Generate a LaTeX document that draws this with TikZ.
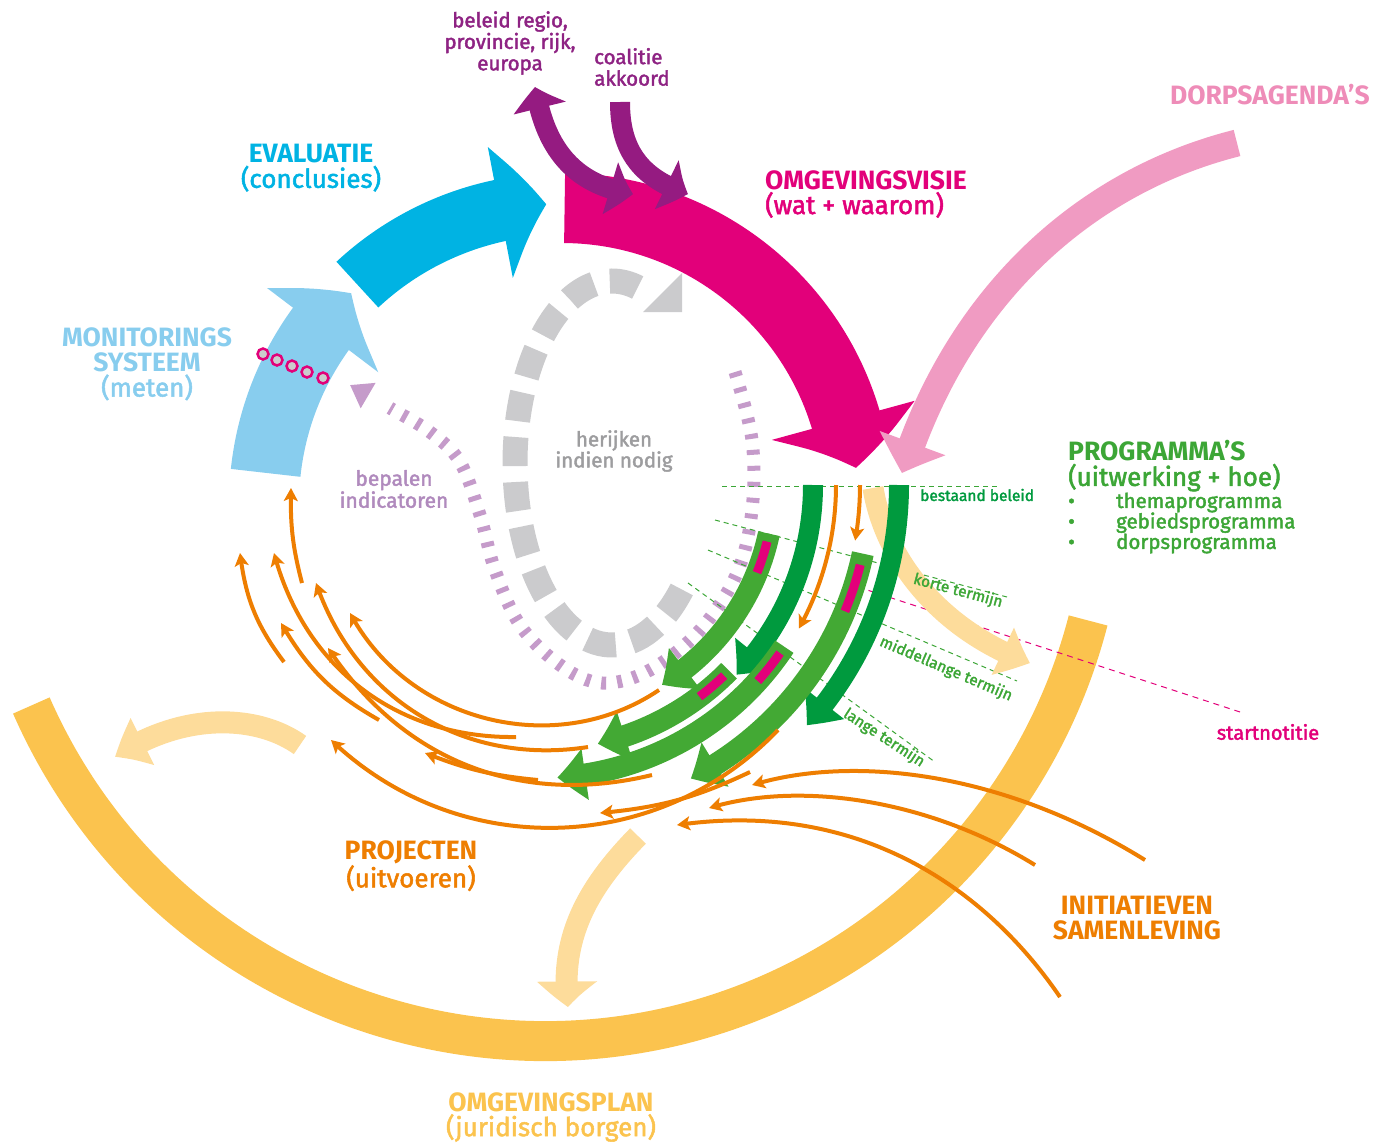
\documentclass[tikz,border=0pt]{standalone}
\usepackage{fontspec}
\setmainfont{Fira Sans}
\newfontfamily\medfont{Fira Sans}[FakeBold=2]
\usepackage{tikz}
\usetikzlibrary{arrows.meta,bending}
\definecolor{cyanc}{HTML}{00B3E3}
\definecolor{lblue}{HTML}{88CDEE}
\definecolor{magc}{HTML}{E2007A}
\definecolor{pinkc}{HTML}{F09BC2}
\definecolor{dorpc}{HTML}{EE8CB8}
\definecolor{purc}{HTML}{951B81}
\definecolor{purtxt}{HTML}{8E2383}
\definecolor{lpur}{HTML}{C59BCA}
\definecolor{lpurtxt}{HTML}{B08ABD}
\definecolor{grayc}{HTML}{CBCBCD}
\definecolor{graytxt}{HTML}{9D9D9F}
\definecolor{dgreen}{HTML}{009A3E}
\definecolor{lgreen}{HTML}{43A934}
\definecolor{labgreen}{HTML}{3CA636}
\definecolor{orc}{HTML}{EE7E01}
\definecolor{bandc}{HTML}{FBC34E}
\definecolor{pale}{HTML}{FDDC9B}
\tikzset{
  head/.style   ={inner sep=0pt, align=center, font=\fontsize{26}{25}\selectfont},
  lbl/.style    ={inner sep=0pt, align=center, font=\medfont\fontsize{20.5}{21.5}\selectfont},
  tag/.style    ={inner sep=0pt, text=labgreen, font=\medfont\fontsize{15.5}{16}\selectfont},
  term/.style   ={draw=labgreen, line width=1pt, dash pattern=on 5pt off 4pt},
  orarrow/.style={draw=orc, line width=4pt, -{Stealth[length=13pt,width=14pt,inset=3pt]}},
  bar/.style    ={magc, line width=9pt}
}
\newcommand{\caps}[1]{{\bfseries\fontsize{26.5}{25}\selectfont #1}}
\begin{document}
\begin{tikzpicture}[x=1pt,y=-1pt]
  \useasboundingbox (0,0) rectangle (1373,1144);
  % centres of the three circles
  \coordinate (C) at (562,504);
  \coordinate (Q) at (540,485);
  \coordinate (Y) at (545,480);

  % omgevingsplan band
  \draw[bandc, line width=40pt] (Y) ++(156.3:561) arc[start angle=156.3, end angle=14.5, radius=561];

  % herijken (grey dashed loop)
  \draw[grayc, line width=25pt, dash pattern=on 29pt off 16pt]
    (612,463) ++(44:97 and 182) arc[start angle=44, end angle=288, x radius=97, y radius=182];
  \fill[grayc] (643,312) -- (682,273) -- (682,312) -- cycle;

  % bepalen indicatoren (purple dashed)
  \draw[lpur, line width=13pt, dash pattern=on 5pt off 11pt, -{Triangle[width=28pt,length=21pt]}]
    plot[smooth, tension=0.6] coordinates {(735,372) (752,440) (752,510) (737,573) (700,630) (650,670)
      (602,683) (560,665) (520,625) (495,570) (480,515) (460,462) (430,432) (390,408) (350,385)};

  % terms and startnotitie
  \draw[term] (722,486) -- (1000,486);
  \draw[term] (715,520) -- (1007,597);
  \draw[term] (708,550) -- (1017,681);
  \draw[term] (688,583) -- (935,762);
  \draw[magc, line width=1pt, dash pattern=on 6pt off 5pt] (858,587) -- (1240,712);

  % main cycle
  \draw[lblue, line width=70pt, -{Triangle[width=136pt,length=47pt,bend]}]
    (C) ++(-174:298) arc[start angle=-174, end angle=-135, radius=298];
  \draw[cyanc, line width=62pt, -{Triangle[width=130pt,length=47pt,bend]}]
    (C) ++(-133:300) arc[start angle=-133, end angle=-93, radius=300];
  \draw[magc, line width=70pt, -{Triangle[width=144pt,length=50pt,bend]}]
    (C) ++(-89.5:296) arc[start angle=-89.5, end angle=-7, radius=296];

  % monitoring points
  \foreach \px/\py in {263/354, 277/360, 292/366, 307/372, 323/378}
    \filldraw[fill=grayc, draw=magc, line width=2.5pt] (\px,\py) circle[radius=5.5];

  % pale arrows
  \draw[pale, line width=21pt, -{Triangle[width=50pt,length=30pt,bend]}]
    (873,488) .. controls (885,560) and (940,630) .. (1030,663);
  \draw[pale, line width=22pt, -{Triangle[width=50pt,length=32pt,bend]}]
    (300,745) .. controls (255,713) and (180,713) .. (115,757);
  \draw[pale, line width=22pt, -{Triangle[width=58pt,length=26pt,bend]}]
    (638,836) .. controls (585,890) and (560,940) .. (568,1007);

  % dorpsagenda's
  \draw[pinkc, line width=27pt, -{Triangle[width=68pt,length=32pt,bend]}]
    (1237,143) .. controls (1090,180) and (960,290) .. (902,473);

  % regio and coalitie
  \draw[purc, line width=20pt, {Triangle[width=52pt,length=22pt,bend]}-{Triangle[width=52pt,length=24pt,bend]}]
    (535,87) .. controls (545,150) and (575,185) .. (633,194);
  \draw[purc, line width=20pt, -{Triangle[width=52pt,length=24pt,bend]}]
    (620,102) .. controls (620,150) and (640,178) .. (688,194);

  % programma's
  \draw[dgreen, line width=20pt, -{Triangle[width=48pt,length=28pt,bend]}]
    (Q) ++(0:273) arc[start angle=0, end angle=44, radius=273];
  \draw[dgreen, line width=20pt, -{Triangle[width=48pt,length=28pt,bend]}]
    (Q) ++(0:359) arc[start angle=0, end angle=42, radius=359];
  \draw[lgreen, line width=22pt, -{Triangle[width=50pt,length=28pt,bend]}]
    (Q) ++(12:234) arc[start angle=12, end angle=58.6, radius=234];
  \draw[lgreen, line width=22pt, -{Triangle[width=50pt,length=28pt,bend]}]
    (Q) ++(12:330) arc[start angle=12, end angle=62.8, radius=330];
  \draw[lgreen, line width=22pt, -{Triangle[width=50pt,length=28pt,bend]}]
    (Q) ++(44.5:265) arc[start angle=44.5, end angle=77.4, radius=265];
  \draw[lgreen, line width=22pt, -{Triangle[width=50pt,length=28pt,bend]}]
    (Q) ++(33.5:293) arc[start angle=33.5, end angle=86.6, radius=293];
  \draw[bar] (Q) ++(14:234) arc[start angle=14, end angle=22, radius=234];
  \draw[bar] (Q) ++(14:330) arc[start angle=14, end angle=22.5, radius=330];
  \draw[bar] (Q) ++(46:265) arc[start angle=46, end angle=53, radius=265];
  \draw[bar] (Q) ++(35:293) arc[start angle=35, end angle=42, radius=293];

  % projecten
  \draw[orarrow] (Q) ++(0:296) arc[start angle=0, end angle=29, radius=296];
  \draw[orarrow] (Q) ++(0:320) arc[start angle=0, end angle=10, radius=320];
  \draw[orarrow] (302,583) to[bend left=8] (291,488);
  \draw[orarrow] (284,662) to[bend left=15] (240,553);
  \draw[orarrow] (516,737) to[bend left=38] (274,553);
  \draw[orarrow] (588,747) to[bend left=40] (316,583);
  \draw[orarrow] (659,690) to[bend left=48] (350,613);
  \draw[orarrow] (379,720) to[bend left=15] (281,623);
  \draw[orarrow] (652,775) to[bend left=35] (328,648);
  \draw[orarrow] (538,780) to[bend left=8] (425,753);
  \draw[orarrow] (778,730) to[bend left=45] (331,740);
  \draw[orarrow] (750,772) to[bend left=10] (600,813);

  % initiatieven
  \draw[orarrow] (1145,860) .. controls (1000,770) and (850,755) .. (752,785);
  \draw[orarrow] (1035,865) .. controls (930,800) and (800,780) .. (709,808);
  \draw[orarrow] (1060,997) .. controls (980,880) and (850,800) .. (677,825);

  % labels
  \node[lbl, text=purtxt] (regio) at (510,43) {beleid regio,\\provincie, rijk,\\europa};
  \node[lbl, text=purtxt, align=left, anchor=west] (coal) at (594,67) {coalitie\\akkoord};
  \node[head, text=cyanc] (eval) at (311,168) {\caps{EVALUATIE}\\\medfont(conclusies)};
  \node[head, text=magc, align=left, anchor=west] (visie) at (765,194) {\caps{OMGEVINGSVISIE}\\\medfont(wat + waarom)};
  \node[head, text=dorpc, anchor=east] (dorp) at (1370,95) {\caps{DORPSAGENDA’S}};
  \node[head, text=lblue] (monitor) at (147,364) {\caps{MONITORINGS}\\\caps{SYSTEEM}\\\medfont(meten)};
  \node[lbl, text=graytxt, font=\medfont\fontsize{20.5}{21}\selectfont] (herijk) at (614,451) {herijken\\indien nodig};
  \node[lbl, text=lpurtxt, font=\medfont\fontsize{21}{22}\selectfont] (bepaal) at (394,489) {bepalen\\indicatoren};
  \node[head, text=labgreen, align=left, anchor=west] (prog) at (1068,466) {\caps{PROGRAMMA’S}\\\medfont(uitwerking + hoe)};
  \node[inner sep=0pt, text=labgreen, align=left, anchor=west, font=\medfont\fontsize{20.5}{20.5}\selectfont] (progs) at (1068,523)
    {\makebox[48pt][l]{•}themaprogramma\\\makebox[48pt][l]{•}gebiedsprogramma\\\makebox[48pt][l]{•}dorpsprogramma};
  \node[tag, text=dgreen, anchor=west] (bestaand) at (920,495) {bestaand beleid};
  \node[tag, rotate=-15] (kort) at (958,591) {korte termijn};
  \node[tag, rotate=-23] (middel) at (946,669) {middellange termijn};
  \node[tag, rotate=-33] (lang) at (884,738) {lange termijn};
  \node[inner sep=0pt, text=magc, font=\medfont\fontsize{20}{20}\selectfont] (start) at (1268,732) {startnotitie};
  \node[head, text=orc] (proj) at (411,866) {\caps{PROJECTEN}\\\medfont(uitvoeren)};
  \node[head, text=orc] (init) at (1137,918) {\caps{INITIATIEVEN}\\\caps{SAMENLEVING}};
  \node[head, text=bandc] (plan) at (551,1117) {\caps{OMGEVINGSPLAN}\\\medfont(juridisch borgen)};
\end{tikzpicture}
\end{document}
